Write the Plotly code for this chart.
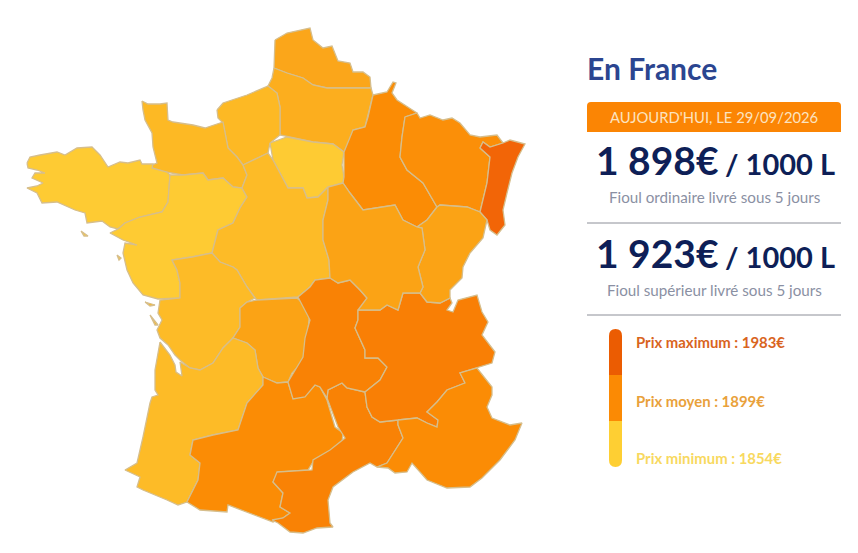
import plotly.graph_objects as go

# region outlines (x, y in image pixels)
nord = [(275,40),(287,33),(310,28),(313,40),(323,48),(332,46),(338,61),(350,63),(353,72),(363,72),(370,77),(371,88),(350,88),(327,88),(313,85),(303,78),(287,73),(274,68)]
picardie = [(274,68),(287,73),(303,78),(313,85),(327,88),(350,88),(371,88),(373,95),(368,117),(365,127),(353,130),(350,143),(344,152),(333,144),(313,142),(290,137),(280,135),(280,107),(277,93),(268,86),(272,78)]
haute_normandie = [(217,110),(223,103),(247,95),(268,86),(277,93),(280,107),(280,135),(270,143),(268,153),(243,165),(237,157),(228,148),(223,123),(218,118)]
basse_normandie = [(142,101),(148,104),(160,104),(167,103),(168,120),(173,122),(193,125),(205,128),(223,122),(228,148),(237,157),(243,165),(247,175),(242,188),(233,187),(223,178),(208,180),(203,173),(183,175),(167,172),(153,170),(152,165),(157,163),(153,147),(152,133),(145,120),(143,110)]
bretagne = [(27,163),(30,157),(40,155),(57,152),(65,155),(77,148),(92,147),(100,155),(108,167),(120,162),(128,163),(140,160),(142,164),(153,164),(152,168),(167,172),(170,175),(168,202),(162,212),(140,217),(125,223),(118,229),(110,227),(102,221),(87,223),(85,213),(75,210),(57,202),(42,203),(37,193),(27,188),(37,186),(43,183),(32,178),(35,173),(45,173),(37,170),(28,168),None,(81,231),(88,236),(84,236)]
pays_de_loire = [(118,229),(125,223),(140,217),(162,212),(168,202),(170,175),(183,175),(203,173),(208,180),(223,178),(233,187),(242,188),(247,197),(240,208),(233,223),(218,230),(212,253),(192,257),(172,260),(177,270),(180,283),(180,298),(158,299),(143,295),(133,283),(127,270),(123,253),(125,243),(137,245),(123,240),(110,233),None,(117,255),(121,258),(119,260)]
ile_de_france = [(270,143),(287,137),(313,142),(333,144),(344,152),(342,165),(344,177),(343,183),(328,187),(318,197),(307,198),(303,188),(288,188),(280,173),(273,160)]
centre = [(243,165),(268,153),(273,160),(280,173),(288,188),(303,188),(307,198),(318,197),(328,187),(328,200),(323,220),(323,240),(329,260),(330,278),(315,280),(310,287),(298,297),(257,300),(255,298),(247,287),(237,270),(233,267),(220,262),(212,253),(218,230),(233,223),(240,208),(247,197),(242,188),(247,175)]
poitou = [(172,260),(192,257),(212,253),(220,262),(233,267),(237,270),(247,287),(255,298),(247,302),(240,308),(240,327),(233,338),(223,348),(213,363),(200,370),(190,368),(180,360),(175,355),(168,345),(160,338),(157,330),(162,320),(158,313),(160,300),(180,298),(180,283),(177,270),None,(145,302),(155,305),(150,306),None,(150,315),(158,325),(155,325)]
limousin = [(240,308),(247,302),(257,300),(297,298),(310,310),(308,328),(307,340),(307,357),(292,373),(288,382),(277,383),(263,377),(258,368),(255,350),(247,343),(233,338),(240,327)]
aquitaine = [(160,342),(170,355),(175,365),(176,372),(182,376),(180,362),(190,368),(200,370),(213,363),(223,348),(233,338),(247,343),(255,350),(258,368),(263,377),(263,385),(247,403),(243,415),(238,430),(213,435),(193,440),(190,455),(200,463),(198,480),(187,502),(178,505),(167,500),(143,490),(137,487),(140,477),(125,470),(137,463),(143,437),(150,403),(152,397),(158,395),(155,390),(155,370)]
midi_pyrenees = [(263,377),(277,383),(288,382),(293,398),(303,397),(315,385),(320,387),(327,400),(335,427),(343,433),(342,443),(330,452),(313,462),(308,470),(278,472),(273,482),(283,493),(280,507),(290,513),(283,518),(273,522),(260,517),(243,510),(228,505),(227,512),(200,510),(187,502),(198,480),(200,463),(190,455),(193,440),(213,435),(238,430),(243,415),(247,403),(263,385)]
languedoc = [(327,398),(328,390),(342,383),(347,388),(365,392),(367,407),(372,417),(380,422),(398,420),(398,425),(403,438),(395,450),(387,463),(377,467),(370,463),(353,472),(333,487),(328,500),(330,523),(333,527),(317,528),(303,533),(290,532),(278,523),(272,520),(283,518),(290,513),(280,507),(283,493),(273,482),(277,472),(312,470),(313,460),(330,450),(345,438),(338,427),(333,413)]
auvergne = [(298,297),(310,287),(315,280),(330,278),(338,283),(350,280),(360,290),(367,298),(365,307),(358,310),(358,320),(355,328),(365,350),(365,358),(378,358),(387,367),(380,380),(365,392),(347,388),(342,383),(328,390),(327,398),(320,387),(315,385),(305,397),(293,399),(288,382),(303,357),(305,338),(310,320)]
rhone_alpes = [(358,310),(380,310),(387,305),(398,310),(403,293),(420,293),(427,302),(440,303),(450,298),(452,303),(447,310),(453,312),(458,300),(477,295),(482,312),(488,322),(482,335),(495,352),(492,363),(477,368),(465,372),(460,373),(465,383),(447,390),(437,402),(427,412),(438,420),(437,427),(427,423),(417,418),(398,420),(380,422),(372,417),(367,407),(365,392),(380,380),(387,367),(378,358),(365,358),(365,350),(355,328),(358,320)]
paca = [(398,420),(417,418),(427,423),(437,427),(438,420),(427,412),(437,402),(447,390),(465,383),(460,373),(477,368),(492,387),(492,395),(487,407),(492,418),(510,425),(522,423),(515,440),(500,460),(482,478),(470,487),(447,488),(427,480),(418,470),(412,463),(407,472),(395,473),(388,468),(377,467),(387,463),(395,450),(403,438),(398,425)]
champagne = [(373,95),(387,92),(393,82),(396,83),(392,93),(397,100),(417,113),(405,117),(402,137),(400,157),(407,170),(423,183),(437,207),(427,220),(417,227),(403,220),(395,205),(363,210),(350,193),(343,183),(344,177),(344,152),(353,130),(365,127),(368,117)]
lorraine = [(405,117),(417,113),(420,118),(430,115),(443,120),(452,118),(460,123),(470,135),(480,137),(497,135),(503,143),(490,147),(483,142),(480,148),(490,157),(487,183),(480,212),(467,207),(440,205),(437,207),(423,183),(407,170),(400,157),(402,137)]
alsace = [(480,148),(483,142),(490,147),(503,143),(510,140),(525,144),(518,157),(512,173),(507,193),(503,210),(505,225),(497,235),(490,230),(487,220),(480,212),(487,183),(490,157)]
franche_comte = [(437,207),(440,205),(467,207),(480,212),(487,220),(483,238),(470,253),(463,267),(462,278),(450,290),(450,298),(440,303),(427,302),(420,293),(423,287),(418,267),(425,250),(422,228),(417,227),(427,220)]
bourgogne = [(328,187),(343,183),(350,193),(363,210),(395,205),(403,220),(417,227),(422,228),(425,250),(418,267),(423,287),(420,293),(403,293),(398,310),(387,305),(380,310),(358,310),(367,298),(360,290),(350,280),(338,283),(330,278),(329,260),(323,240),(323,220),(328,200)]

regions = [nord, picardie, haute_normandie, basse_normandie, bretagne, pays_de_loire,
           ile_de_france, centre, poitou, limousin, aquitaine, midi_pyrenees, languedoc,
           auvergne, rhone_alpes, paca, champagne, lorraine, alsace, franche_comte, bourgogne]
region_colors = ["#FBA61A", "#FCAE1E", "#FDB924", "#FDB924", "#FECB33", "#FECB33",
                 "#FECB33", "#FDBB27", "#FDBB27", "#FBA315", "#FDBB27", "#FB8C05", "#F98205",
                 "#F98205", "#F97F05", "#FB8C05", "#FB8C05", "#FB8F08", "#F26507", "#FBA315", "#FBA315"]

price_values = ["1 898€", "1 923€"]
price_captions = ["Fioul ordinaire livré sous 5 jours", "Fioul supérieur livré sous 5 jours"]
legend_labels = ["Prix maximum : 1983€", "Prix moyen : 1899€", "Prix minimum : 1854€"]
legend_text_colors = ["#D9641E", "#E9A13B", "#F8D95F"]
legend_bar_colors = ["#EB5C02", "#FB8A04", "#FECF33"]

FONT = "Lato, Carlito, Open Sans, sans-serif"


def closed_rings(outline):
    """Split an outline on None and close every piece, islands included."""
    xs, ys, ring = [], [], []
    for point in outline + [None]:
        if point is None:
            xs += [p[0] for p in ring] + [ring[0][0], None]
            ys += [p[1] for p in ring] + [ring[0][1], None]
            ring = []
        else:
            ring.append(point)
    return xs[:-1], ys[:-1]


fig = go.Figure()
for outline, color in zip(regions, region_colors):
    xs, ys = closed_rings(outline)
    fig.add_trace(go.Scatter(
        x=xs,
        y=ys,
        mode="lines",
        fill="toself",
        fillcolor=color,
        line=dict(color="#D6BE8C", width=1.3),
        hoverinfo="skip",
    ))


def label(x, y, text, size, color, anchor="left", weight="normal"):
    fig.add_annotation(
        x=x, y=y, text=text, showarrow=False, xanchor=anchor, yanchor="middle",
        font=dict(family=FONT, size=size, color=color, weight=weight),
    )


label(585, 68, "En France", 30, "#2B4590", weight="bold")

# orange date banner
fig.add_shape(type="path", path="M587,106 Q587,102 591,102 L837,102 Q841,102 841,106 L841,132 L587,132 Z",
              fillcolor="#FB8504", line_width=0)
label(714, 117, "AUJOURD'HUI, LE 29/09/2026", 14.8, "#FBE3C0", anchor="center")

for i, y in enumerate([160, 253]):
    label(721, y, price_values[i], 39, "#0E1F57", anchor="right", weight="bold")
    label(723, y + 3, "/ 1000 L", 29, "#0E1F57", weight="bold")
    label(714, y + 37, price_captions[i], 15.2, "#8A90A3", anchor="center")

for y in [223, 315]:
    fig.add_shape(type="line", x0=587, x1=841, y0=y, y1=y, line=dict(color="#8C8F98", width=1))

# legend bar, rounded at both ends
fig.add_shape(type="path", path="M609,375 L609,336 Q609,329 615.5,329 Q622,329 622,336 L622,375 Z",
              fillcolor=legend_bar_colors[0], line_width=0)
fig.add_shape(type="rect", x0=609, x1=622, y0=375, y1=421, fillcolor=legend_bar_colors[1], line_width=0)
fig.add_shape(type="path", path="M609,421 L609,460 Q609,467 615.5,467 Q622,467 622,460 L622,421 Z",
              fillcolor=legend_bar_colors[2], line_width=0)
for y, text, color in zip([342, 401, 458], legend_labels, legend_text_colors):
    label(634, y, text, 14.9, color, weight="bold")

fig.update_layout(
    width=858,
    height=553,
    margin=dict(l=0, r=0, t=0, b=0),
    showlegend=False,
    paper_bgcolor="white",
    plot_bgcolor="white",
    xaxis=dict(range=[0, 858], visible=False, fixedrange=True),
    yaxis=dict(range=[553, 0], visible=False, fixedrange=True),
)
fig.write_html("out.html", config=dict(displayModeBar=False),
               post_script="document.body.style.margin='0';")
